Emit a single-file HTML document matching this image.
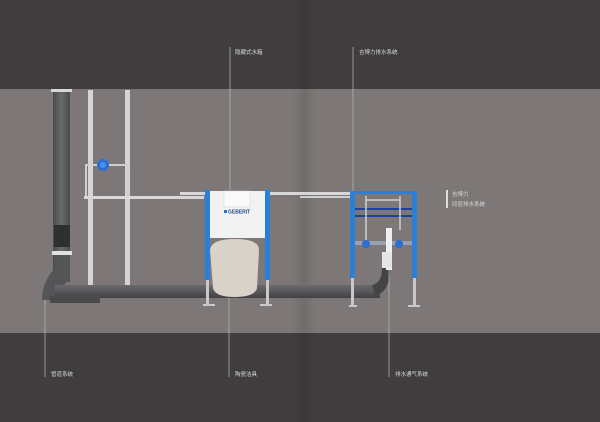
<!DOCTYPE html>
<html><head><meta charset="utf-8"><style>
html,body{margin:0;padding:0;width:600px;height:422px;overflow:hidden;background:#3f3d3e}
svg{display:block}
text{font-family:"Liberation Sans","Noto Sans CJK SC",sans-serif;fill:#d8d6d6;font-size:5.5px}
</style></head><body>
<svg width="600" height="422" viewBox="0 0 600 422" xmlns="http://www.w3.org/2000/svg">
<defs>
<linearGradient id="fold" x1="0" x2="1" y1="0" y2="0">
<stop offset="0" stop-color="#000" stop-opacity="0"/>
<stop offset="0.5" stop-color="#000" stop-opacity="0.1"/>
<stop offset="1" stop-color="#000" stop-opacity="0"/>
</linearGradient>
<linearGradient id="gp" x1="0" x2="1"><stop offset="0" stop-color="#4a4a4c"/><stop offset="0.5" stop-color="#6a6a6c"/><stop offset="1" stop-color="#4a4a4c"/></linearGradient>
<linearGradient id="gph" x1="0" x2="0" y1="0" y2="1"><stop offset="0" stop-color="#6a6a6c"/><stop offset="0.5" stop-color="#58585a"/><stop offset="1" stop-color="#404042"/></linearGradient>
</defs>
<rect x="0" y="0" width="600" height="89" fill="#3f3d3e"/>
<rect x="0" y="89" width="600" height="244" fill="#7d7877"/>
<rect x="0" y="333" width="600" height="89" fill="#3f3d3e"/>
<rect x="292" y="0" width="24" height="422" fill="url(#fold)"/>

<rect x="88" y="90" width="5" height="196" fill="#d4d4d6"/>
<rect x="125" y="90" width="5" height="196" fill="#d4d4d6"/>
<path d="M86 197 V165 H128 V197" fill="none" stroke="#cfcfd2" stroke-width="2"/>
<circle cx="103" cy="165" r="6" fill="#2b6fd4"/>
<circle cx="103" cy="165" r="3" fill="#4a92ea"/>
<rect x="84" y="196" width="120" height="3" fill="#d8d8da"/>
<rect x="180" y="192" width="30" height="3" fill="#d8d8da"/>
<rect x="265" y="192" width="90" height="3" fill="#d8d8da"/>
<rect x="300" y="196" width="55" height="2" fill="#cfcfd2"/>

<rect x="53" y="90" width="17" height="192" fill="url(#gp)"/>
<rect x="51" y="89" width="21" height="3" fill="#d8d8da"/>
<rect x="54" y="225" width="16" height="22" fill="#2f2f31"/>
<rect x="52" y="251" width="20" height="4" fill="#e0e0e2"/>
<path d="M55 255 L55 268 Q42 282 42 300 L60 300 Q60 288 70 278 L70 255 Z" fill="#555557"/>
<rect x="55" y="285" width="325" height="13" fill="url(#gph)"/>
<rect x="50" y="296" width="50" height="7" fill="#4a4a4c"/>
<path d="M372 285 Q382 283 382 268 L390 268 Q390 292 375 296 Z" fill="#444446"/>

<rect x="205" y="190" width="5" height="90" fill="#2a7fd8"/>
<rect x="265" y="190" width="5" height="90" fill="#2a7fd8"/>
<rect x="206" y="280" width="3" height="25" fill="#c8c8ca"/>
<rect x="266" y="280" width="3" height="25" fill="#c8c8ca"/>
<rect x="203" y="304" width="12" height="2" fill="#c8c8ca"/>
<rect x="260" y="304" width="12" height="2" fill="#c8c8ca"/>
<rect x="210" y="191" width="55" height="47" fill="#f2f2f2"/>
<rect x="224" y="191" width="26" height="16" fill="#fafafa" stroke="#d4d4d4" stroke-width="0.5"/>
<rect x="224" y="210" width="3" height="3" fill="#2a6fd4"/>
<text x="228" y="213.5" style="fill:#234a88;font-size:5px;font-weight:bold">GEBERIT</text>
<path d="M210 250 Q211 239 235 239 Q259 239 259 250 L257 288 Q255 297 235 297 Q215 297 213 288 Z" fill="#d9d2c9"/>

<rect x="350" y="191" width="5" height="87" fill="#2a7fd8"/>
<rect x="412" y="191" width="5" height="87" fill="#2a7fd8"/>
<rect x="350" y="191" width="67" height="3" fill="#2a7fd8"/>
<rect x="355" y="208" width="57" height="2" fill="#1c3fa8"/>
<rect x="355" y="215" width="57" height="2" fill="#1c3fa8"/>
<rect x="355" y="241" width="57" height="4" fill="#9aa0b0"/>
<path d="M366 196 V241 M400 196 V230 M366 200 H400" fill="none" stroke="#cfcfd2" stroke-width="1.5"/>
<circle cx="366" cy="244" r="4" fill="#2a6fd4"/>
<circle cx="399" cy="244" r="4" fill="#2a6fd4"/>
<rect x="386" y="228" width="6" height="42" fill="#eeeeee"/>
<rect x="382" y="252" width="10" height="16" fill="#e6e6e6"/>
<rect x="351" y="278" width="3" height="28" fill="#c8c8ca"/>
<rect x="413" y="278" width="3" height="28" fill="#c8c8ca"/>
<rect x="349" y="305" width="8" height="2" fill="#c8c8ca"/>
<rect x="408" y="305" width="12" height="2" fill="#c8c8ca"/>

<g stroke="#bdb9b8" stroke-width="0.7">
<line x1="230" y1="47" x2="230" y2="190"/>
<line x1="353" y1="47" x2="353" y2="191"/>
<line x1="45" y1="300" x2="45" y2="377"/>
<line x1="229" y1="298" x2="229" y2="377"/>
<line x1="389" y1="270" x2="389" y2="377"/>
</g>
<rect x="446" y="190" width="2" height="18" fill="#e0dcdc"/>

<text x="235" y="54">隐藏式水箱</text>
<text x="359" y="54">吉博力排水系统</text>
<text x="51" y="376">管道系统</text>
<text x="235" y="376">陶瓷洁具</text>
<text x="395" y="376">排水通气系统</text>
<text x="452" y="196">吉博力</text>
<text x="452" y="206">同层排水系统</text>
</svg>
</body></html>
